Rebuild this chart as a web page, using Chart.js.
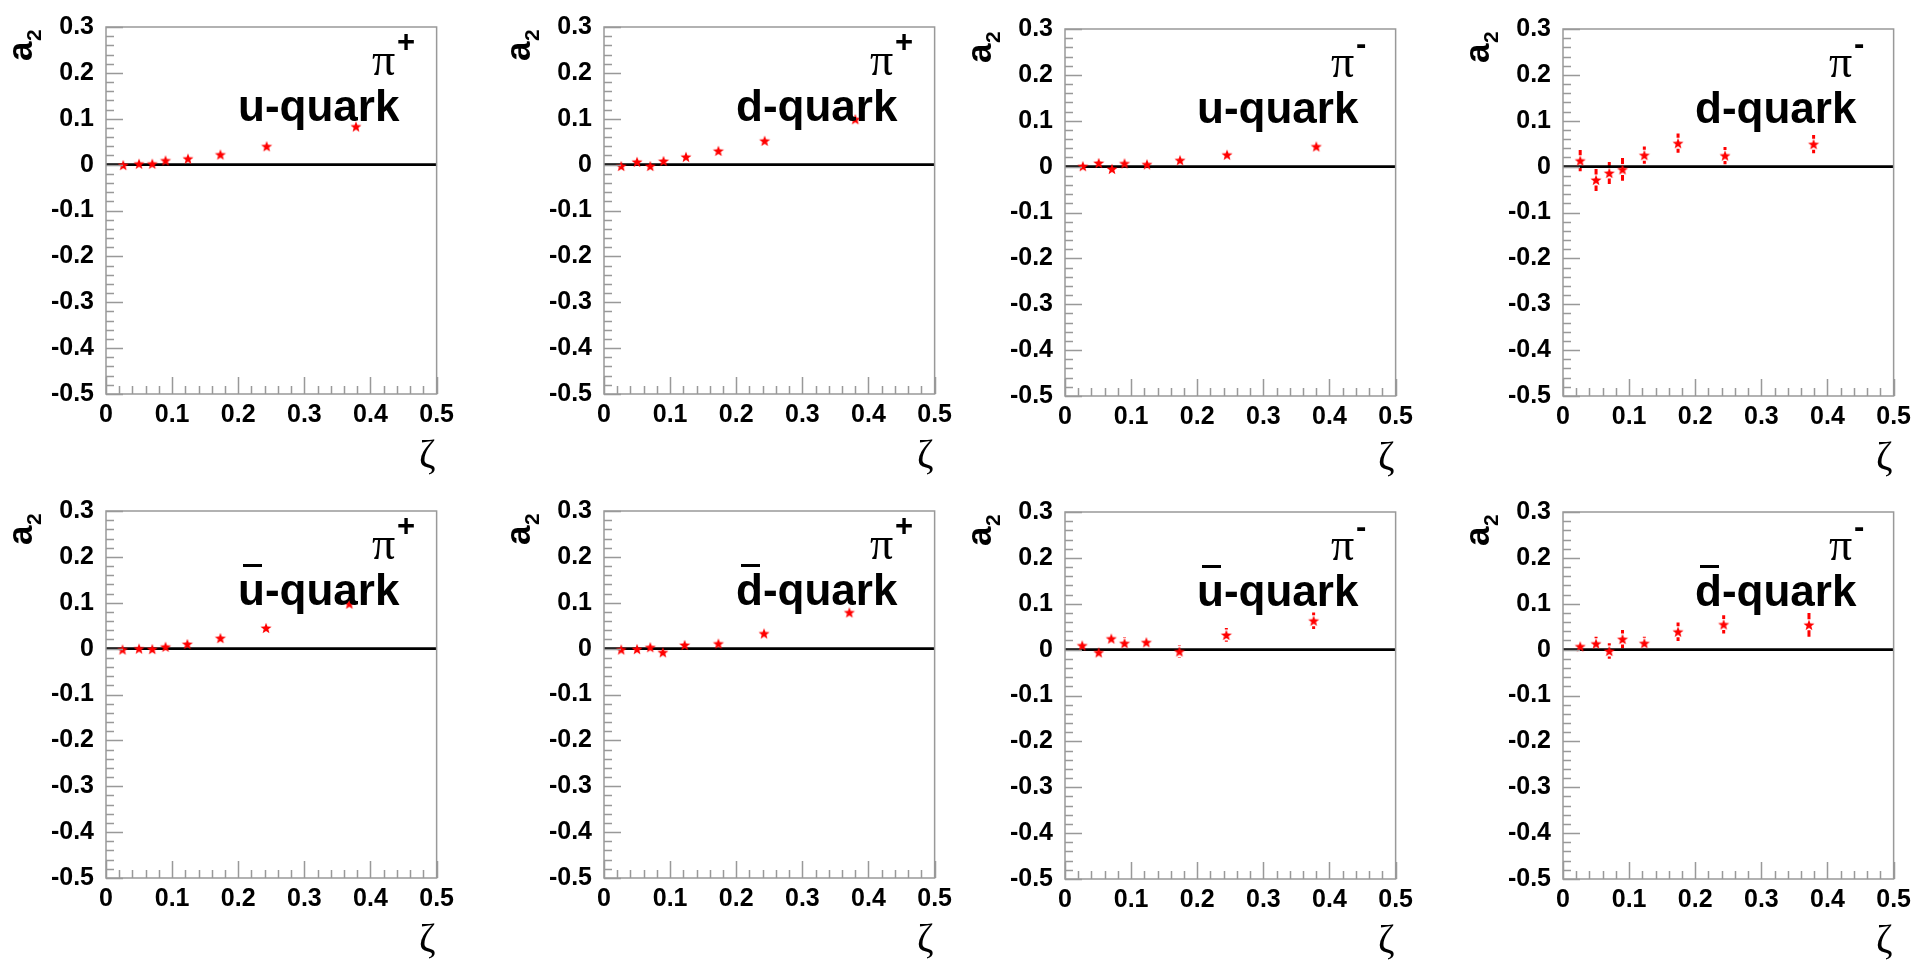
<!DOCTYPE html>
<html>
<head>
<meta charset="utf-8">
<script src="https://cdn.jsdelivr.net/npm/chart.js@4.4.1/dist/chart.umd.min.js"></script>
<style>
  html, body { margin: 0; padding: 0; background: #fff; overflow: hidden; }
  #page { position: relative; width: 1917px; height: 962px; }
  #page canvas { position: absolute; }
</style>
</head>
<body>
<div id="page"></div>
<script>
const xTicks = [0, 0.1, 0.2, 0.3, 0.4, 0.5];
const yTicks = [-0.5, -0.4, -0.3, -0.2, -0.1, 0, 0.1, 0.2, 0.3];
const zeroLineX = [0, 0.5];

// pi+ , u-quark
const zetaPipU = [0.026, 0.050, 0.070, 0.090, 0.124, 0.173, 0.243, 0.378];
const a2PipU = [-0.001, 0.002, 0.002, 0.009, 0.013, 0.022, 0.040, 0.083];
const errPipU = [0.003, 0.003, 0.003, 0.003, 0.003, 0.004, 0.004, 0.005];
// pi+ , d-quark
const zetaPipD = [0.026, 0.050, 0.070, 0.090, 0.124, 0.173, 0.243, 0.380];
const a2PipD = [-0.003, 0.006, -0.003, 0.008, 0.017, 0.030, 0.052, 0.099];
const errPipD = [0.004, 0.004, 0.004, 0.004, 0.004, 0.005, 0.005, 0.006];
// pi- , u-quark
const zetaPimU = [0.027, 0.051, 0.071, 0.090, 0.124, 0.174, 0.245, 0.380];
const a2PimU = [0.001, 0.008, -0.005, 0.007, 0.005, 0.014, 0.026, 0.044];
const errPimU = [0.004, 0.004, 0.004, 0.004, 0.004, 0.005, 0.005, 0.006];
// pi- , d-quark
const zetaPimD = [0.026, 0.050, 0.070, 0.090, 0.123, 0.174, 0.245, 0.379];
const a2PimD = [0.013, -0.029, -0.014, -0.006, 0.025, 0.051, 0.024, 0.049];
const errPimD = [0.023, 0.024, 0.024, 0.025, 0.019, 0.021, 0.019, 0.020];
// pi+ , anti-u
const zetaPipUbar = [0.025, 0.050, 0.070, 0.090, 0.123, 0.173, 0.242, 0.368];
const a2PipUbar = [-0.002, 0.000, -0.001, 0.004, 0.010, 0.023, 0.045, 0.098];
const errPipUbar = [0.003, 0.003, 0.003, 0.003, 0.003, 0.004, 0.004, 0.005];
// pi+ , anti-d
const zetaPipDbar = [0.026, 0.050, 0.070, 0.089, 0.122, 0.173, 0.242, 0.371];
const a2PipDbar = [-0.002, -0.001, 0.003, -0.008, 0.008, 0.011, 0.033, 0.079];
const errPipDbar = [0.004, 0.004, 0.004, 0.004, 0.004, 0.005, 0.005, 0.006];
// pi- , anti-u
const zetaPimUbar = [0.026, 0.051, 0.070, 0.090, 0.123, 0.173, 0.244, 0.376];
const a2PimUbar = [0.009, -0.006, 0.024, 0.014, 0.016, -0.004, 0.032, 0.063];
const errPimUbar = [0.007, 0.008, 0.008, 0.013, 0.008, 0.013, 0.015, 0.018];
// pi- , anti-d
const zetaPimDbar = [0.026, 0.050, 0.070, 0.090, 0.123, 0.174, 0.243, 0.372];
const a2PimDbar = [0.007, 0.013, -0.003, 0.023, 0.014, 0.039, 0.055, 0.054];
const errPimDbar = [0.009, 0.015, 0.017, 0.020, 0.014, 0.020, 0.020, 0.026];

const panels = [
  { zeta: zetaPipU, a2: a2PipU, err: errPipU, quark: 'u', anti: false, pion: '+', left: 106, top: 21 },
  { zeta: zetaPipD, a2: a2PipD, err: errPipD, quark: 'd', anti: false, pion: '+', left: 604, top: 21 },
  { zeta: zetaPimU, a2: a2PimU, err: errPimU, quark: 'u', anti: false, pion: '-', left: 1065, top: 23 },
  { zeta: zetaPimD, a2: a2PimD, err: errPimD, quark: 'd', anti: false, pion: '-', left: 1563, top: 23 },
  { zeta: zetaPipUbar, a2: a2PipUbar, err: errPipUbar, quark: 'u', anti: true, pion: '+', left: 106, top: 505 },
  { zeta: zetaPipDbar, a2: a2PipDbar, err: errPipDbar, quark: 'd', anti: true, pion: '+', left: 604, top: 505 },
  { zeta: zetaPimUbar, a2: a2PimUbar, err: errPimUbar, quark: 'u', anti: true, pion: '-', left: 1065, top: 506 },
  { zeta: zetaPimDbar, a2: a2PimDbar, err: errPimDbar, quark: 'd', anti: true, pion: '-', left: 1563, top: 506 }
];

const SANS = '"Liberation Sans", Arial, sans-serif';
const SERIF = '"Liberation Serif", "Times New Roman", serif';

function makeStar(r, color) {
  const size = Math.ceil(r * 2 + 2);
  const c = document.createElement('canvas');
  c.width = size;
  c.height = size;
  const g = c.getContext('2d');
  g.beginPath();
  for (let i = 0; i < 10; i++) {
    const rad = i % 2 === 0 ? r : r * 0.42;
    const a = -Math.PI / 2 + i * Math.PI / 5;
    const px = size / 2 + rad * Math.cos(a);
    const py = size / 2 + 0.5 + rad * Math.sin(a);
    if (i === 0) g.moveTo(px, py); else g.lineTo(px, py);
  }
  g.closePath();
  g.fillStyle = color;
  g.fill();
  return c;
}

const star = makeStar(5.8, '#ff0000');

// ROOT-like frame: inward ticks, error bars with a gap round the marker, labels
const rootFrame = {
  id: 'rootFrame',
  beforeDatasetsDraw(chart, args, opts) {
    const ctx = chart.ctx;
    const xs = chart.scales.x;
    const ys = chart.scales.y;
    const gap = 5.5;
    ctx.save();
    ctx.strokeStyle = '#ff0000';
    ctx.lineWidth = 3;
    opts.zeta.forEach((z, i) => {
      const px = xs.getPixelForValue(z);
      const pc = ys.getPixelForValue(opts.a2[i]);
      const pt = ys.getPixelForValue(opts.a2[i] + opts.err[i]);
      const pb = ys.getPixelForValue(opts.a2[i] - opts.err[i]);
      ctx.beginPath();
      if (pc - pt > gap) { ctx.moveTo(px, pc - gap); ctx.lineTo(px, pt); }
      if (pb - pc > gap) { ctx.moveTo(px, pc + gap); ctx.lineTo(px, pb); }
      ctx.stroke();
    });
    ctx.restore();
  },
  afterDraw(chart, args, opts) {
    const ctx = chart.ctx;
    const { left, right, top, bottom } = chart.chartArea;
    const xs = chart.scales.x;
    const ys = chart.scales.y;
    ctx.save();
    ctx.strokeStyle = '#999999';
    ctx.lineWidth = 1.5;
    ctx.strokeRect(left, top, right - left, bottom - top);
    ctx.beginPath();
    for (let i = 0; i <= 40; i++) {
      const py = Math.round(ys.getPixelForValue(-0.5 + i * 0.02)) + 0.5;
      ctx.moveTo(left, py);
      ctx.lineTo(left + (i % 5 === 0 ? 17 : 8), py);
    }
    for (let i = 0; i <= 25; i++) {
      const px = Math.round(xs.getPixelForValue(i * 0.02)) + 0.5;
      ctx.moveTo(px, bottom);
      ctx.lineTo(px, bottom - (i % 5 === 0 ? 17 : 8));
    }
    ctx.stroke();

    ctx.fillStyle = '#000';
    ctx.textAlign = 'left';
    ctx.textBaseline = 'alphabetic';
    ctx.font = 'bold 44px ' + SANS;
    ctx.fillText(opts.quark + '-quark', left + 132, top + 94);
    if (opts.anti) ctx.fillRect(left + 137, top + 53, 19, 3);
    ctx.font = '46px ' + SERIF;
    ctx.fillText('π', left + 266, top + 48);
    ctx.font = 'bold 31px ' + SANS;
    ctx.fillText(opts.pion, left + 291, top + 25);

    ctx.save();
    ctx.translate(left - 74, top + 34);
    ctx.rotate(-Math.PI / 2);
    ctx.font = 'bold 35px ' + SANS;
    ctx.fillText('a', 0, 0);
    ctx.font = 'bold 21px ' + SANS;
    ctx.fillText('2', 20, 9);
    ctx.restore();

    ctx.textAlign = 'right';
    ctx.font = '40px ' + SERIF;
    ctx.fillText('ζ', right - 1, bottom + 73);
    ctx.restore();
  }
};

const page = document.getElementById('page');
const CW = 460, CH = 476, PAD_L = 106, PAD_T = 21, PLOT_W = 332, PLOT_H = 373;

panels.forEach(p => {
  const canvas = document.createElement('canvas');
  canvas.width = CW;
  canvas.height = CH;
  canvas.style.left = (p.left - PAD_L) + 'px';
  canvas.style.top = (p.top - PAD_T) + 'px';
  canvas.style.width = CW + 'px';
  canvas.style.height = CH + 'px';
  page.appendChild(canvas);

  new Chart(canvas.getContext('2d'), {
    type: 'scatter',
    data: {
      datasets: [
        {
          data: p.zeta.map((z, i) => ({ x: z, y: p.a2[i] })),
          pointStyle: star,
          pointRadius: 6,
          showLine: false
        },
        {
          data: zeroLineX.map(x => ({ x: x, y: 0 })),
          showLine: true,
          borderColor: '#000000',
          borderWidth: 2.6,
          pointRadius: 0
        }
      ]
    },
    options: {
      responsive: false,
      animation: false,
      events: [],
      layout: { padding: { left: 0, top: PAD_T, right: CW - PAD_L - PLOT_W, bottom: 0 } },
      plugins: {
        legend: { display: false },
        tooltip: { enabled: false },
        rootFrame: { zeta: p.zeta, a2: p.a2, err: p.err, quark: p.quark, anti: p.anti, pion: p.pion }
      },
      scales: {
        x: {
          type: 'linear',
          min: 0,
          max: 0.5,
          afterBuildTicks: s => { s.ticks = xTicks.map(v => ({ value: v })); },
          afterFit: s => { s.height = CH - PAD_T - PLOT_H; },
          grid: { display: false, drawTicks: false },
          border: { display: false },
          ticks: {
            autoSkip: false,
            maxRotation: 0,
            padding: 6,
            color: '#000',
            font: { family: 'Liberation Sans', weight: 'bold', size: 25 },
            callback: v => (Math.abs(v) < 1e-9 ? '0' : v.toFixed(1))
          }
        },
        y: {
          type: 'linear',
          min: -0.5,
          max: 0.3,
          afterBuildTicks: s => { s.ticks = yTicks.map(v => ({ value: v })); },
          afterFit: s => { s.width = PAD_L; },
          grid: { display: false, drawTicks: false },
          border: { display: false },
          ticks: {
            autoSkip: false,
            padding: 12,
            color: '#000',
            font: { family: 'Liberation Sans', weight: 'bold', size: 25 },
            callback: v => (Math.abs(v) < 1e-9 ? '0' : v.toFixed(1))
          }
        }
      }
    },
    plugins: [rootFrame]
  });
});
</script>
</body>
</html>
